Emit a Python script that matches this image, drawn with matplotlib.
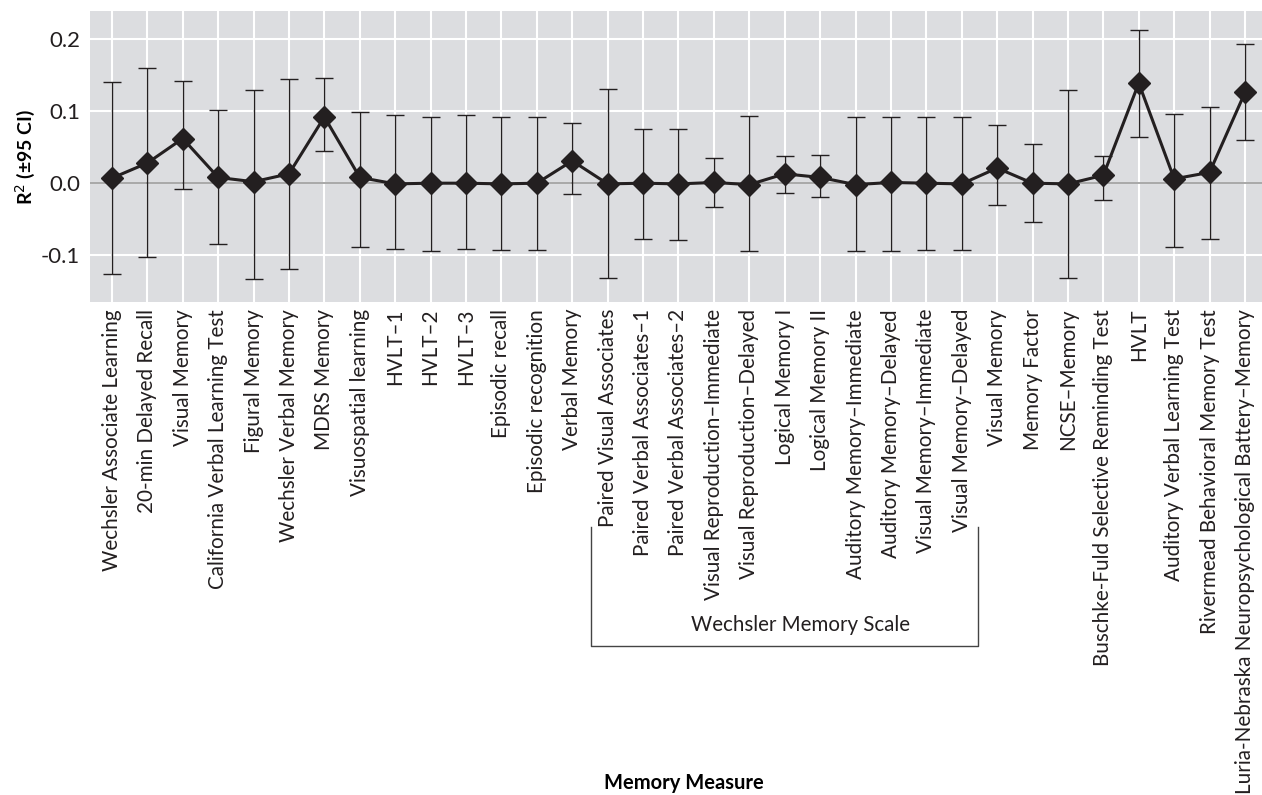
import numpy as np
import matplotlib.pyplot as plt

plt.rcParams['font.family'] = ['Lato', 'DejaVu Sans']

measures = [
    'Wechsler Associate Learning', '20-min Delayed Recall', 'Visual Memory',
    'California Verbal Learning Test', 'Figural Memory', 'Wechsler Verbal Memory',
    'MDRS Memory', 'Visuospatial learning', 'HVLT–1', 'HVLT–2', 'HVLT–3',
    'Episodic recall', 'Episodic recognition', 'Verbal Memory',
    'Paired Visual Associates', 'Paired Verbal Associates–1',
    'Paired Verbal Associates–2', 'Visual Reproduction–Immediate',
    'Visual Reproduction–Delayed', 'Logical Memory I', 'Logical Memory II',
    'Auditory Memory–Immediate', 'Auditory Memory–Delayed',
    'Visual Memory–Immediate', 'Visual Memory–Delayed', 'Visual Memory',
    'Memory Factor', 'NCSE–Memory', 'Buschke-Fuld Selective Reminding Test',
    'HVLT', 'Auditory Verbal Learning Test', 'Rivermead Behavioral Memory Test',
    'Luria-Nebraska Neuropsychological Battery–Memory',
]
r2 = [0.007, 0.028, 0.062, 0.008, 0.002, 0.013, 0.092, 0.008, -0.001, 0.0,
      0.0, -0.001, 0.0, 0.031, -0.001, 0.0, -0.001, 0.001, -0.002, 0.013,
      0.008, -0.002, 0.001, 0.0, -0.001, 0.021, 0.0, -0.001, 0.011, 0.139,
      0.006, 0.015, 0.126]
ci_low = [-0.126, -0.102, -0.008, -0.084, -0.133, -0.119, 0.045, -0.088,
          -0.092, -0.094, -0.091, -0.093, -0.093, -0.015, -0.132, -0.077,
          -0.079, -0.033, -0.094, -0.014, -0.019, -0.094, -0.094, -0.093,
          -0.093, -0.030, -0.054, -0.132, -0.023, 0.064, -0.088, -0.078, 0.060]
ci_high = [0.141, 0.160, 0.142, 0.102, 0.130, 0.144, 0.146, 0.099, 0.094,
           0.092, 0.095, 0.092, 0.092, 0.084, 0.131, 0.075, 0.075, 0.035,
           0.093, 0.038, 0.039, 0.092, 0.092, 0.092, 0.092, 0.081, 0.055,
           0.130, 0.038, 0.213, 0.096, 0.106, 0.193]
group_name = 'Wechsler Memory Scale'
group_span = (14, 24)  # first and last index in the bracket

x = np.arange(len(measures))
r2 = np.array(r2)
yerr = np.array([r2 - np.array(ci_low), np.array(ci_high) - r2])
ink = '#231f20'

fig = plt.figure(figsize=(12.62, 7.95), dpi=100)
ax = fig.add_axes([0.0713, 0.6201, 0.9287, 0.366])
ax.set_facecolor('#dcdde0')
for s in ax.spines.values():
    s.set_visible(False)
ax.grid(True, color='white', lw=1.5)
ax.set_axisbelow(True)
ax.axhline(0, color='#9a9a9a', lw=1.2, zorder=1)

ax.errorbar(x, r2, yerr=yerr, fmt='none', ecolor=ink, elinewidth=1.0,
            capsize=6.5, capthick=1.0, zorder=2)
ax.plot(x, r2, color=ink, lw=2.2, marker='D', ms=11, zorder=3)

ax.set_xlim(-0.62, len(measures) - 0.52)
ax.set_ylim(-0.165, 0.239)
ax.set_yticks([-0.1, 0.0, 0.1, 0.2])
ax.set_yticklabels(['-0.1', '0.0', '0.1', '0.2'], fontsize=16, color=ink)
ax.set_xticks(x)
ax.set_xticklabels(measures, rotation=90, fontsize=14.9, color=ink)
ax.tick_params(axis='x', length=0, pad=5)
ax.tick_params(axis='y', length=0, pad=7)
ax.set_ylabel('R$^2$ (±95 CI)', fontweight='bold', fontsize=14, labelpad=3)
fig.text(0.542, 0.003, 'Memory Measure', fontweight='bold', fontsize=14.5,
         ha='center', va='bottom')

# bracket under the Wechsler Memory Scale subtests
trans = ax.get_xaxis_transform()
x0, x1 = group_span[0] - 0.47, group_span[1] + 0.47
ax.plot([x0, x0, x1, x1], [-0.773, -1.182, -1.182, -0.773], color='#444444',
        lw=1.0, transform=trans, clip_on=False)
ax.text((x0 + x1) / 2 + 0.45, -1.11, group_name, transform=trans, ha='center',
        va='center', fontsize=14.8, color=ink)

fig.savefig('out.png', dpi=100)
